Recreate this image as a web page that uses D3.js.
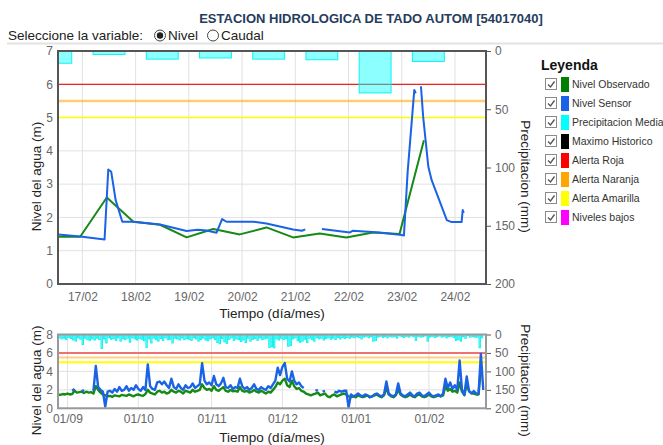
<!DOCTYPE html>
<html>
<head>
<meta charset="utf-8">
<script src="https://cdn.jsdelivr.net/npm/d3@7"></script>
<style>
  body { margin: 0; background: #fff; }
  text { font-family: "Liberation Sans", Arial, sans-serif; }
</style>
</head>
<body>
<svg id="chart" width="663" height="445"></svg>
<script>
// ---------- data ----------
const stationTitle = "ESTACION HIDROLOGICA DE TADO AUTOM [54017040]";
const selectorLabel = "Seleccione la variable:";
const variableOptions = ["Nivel", "Caudal"];
const legendTitle = "Leyenda";
const legendNames = ["Nivel Observado", "Nivel Sensor", "Precipitacion Media", "Maximo Historico",
                     "Alerta Roja", "Alerta Naranja", "Alerta Amarilla", "Niveles bajos"];
const alertNames = ["Alerta Roja", "Alerta Naranja", "Alerta Amarilla"];
const alertLevels = [6, 5.5, 5];

// detail window (hourly sensor + twice-daily readings)
const detailStart = "2024-02-16T13:00";
const detailEnd = "2024-02-24T14:00";
const sensorTimes = [
  "2024-02-16T13:00","2024-02-16T23:00","2024-02-17T10:00","2024-02-17T11:40","2024-02-17T13:00",
  "2024-02-17T15:00","2024-02-17T18:00","2024-02-17T23:00","2024-02-18T11:00","2024-02-18T23:00",
  "2024-02-19T04:00","2024-02-19T08:00","2024-02-19T12:30","2024-02-19T15:00","2024-02-19T17:00",
  "2024-02-20T05:00","2024-02-20T11:00","2024-02-20T23:00","2024-02-21T03:00","2024-02-21T04:30",
  "2024-02-21T08:00","2024-02-21T12:00","2024-02-22T00:40","2024-02-22T02:00","2024-02-22T14:00",
  "2024-02-23T00:00","2024-02-23T01:00","2024-02-23T02:40","2024-02-23T05:40","2024-02-23T06:20",
  "2024-02-23T07:30","2024-02-23T08:40","2024-02-23T09:40","2024-02-23T12:00","2024-02-23T13:30",
  "2024-02-23T20:20","2024-02-23T22:30","2024-02-24T03:00","2024-02-24T03:30","2024-02-24T04:00"
];
const sensorLevels = [
  1.49, 1.43, 1.34, 3.44, 3.37,
  2.52, 1.87, 1.87, 1.79, 1.59,
  1.63, 1.61, 1.54, 1.95, 1.87,
  1.87, 1.82, 1.64, 1.60, 1.64,
  null, 1.65, 1.55, 1.60, 1.55,
  1.47, 1.46, 3.37, 5.83, 5.73,
  null, 5.94, 5.02, 3.52, 3.12,
  1.92, 1.86, 1.86, 2.22, 2.14
];
const observedTimes = [
  "2024-02-16T13:00","2024-02-16T23:00","2024-02-17T11:00","2024-02-17T23:00","2024-02-18T11:00",
  "2024-02-18T23:00","2024-02-19T11:00","2024-02-19T23:00","2024-02-20T11:00","2024-02-20T23:00",
  "2024-02-21T11:00","2024-02-21T23:00","2024-02-22T11:00","2024-02-22T23:00","2024-02-23T10:00"
];
const observedLevels = [
  1.42, 1.42, 2.6, 1.87, 1.78,
  1.40, 1.65, 1.49, 1.70, 1.40,
  1.52, 1.40, 1.55, 1.50, 4.32
];

// daily history, one value per day from seriesStart
const seriesStart = "2023-08-28";
const historyEnd = "2024-02-25T04:00";
const precipDaily = [
  9,12,10,14,8,11,15,  18,9,13,27,10,14,16,  12,15,10,14,38,12,23,  9,13,11,16,9,18,12,
  14,10,21,9,12,15,11,  13,17,35,12,23,10,14,  18,11,16,9,14,13,23,  10,12,15,9,14,11,13,
  16,9,12,18,14,10,15,  17,12,9,14,22,25,11,  20,24,13,9,16,12,14,  19,15,22,10,18,13,11,
  16,9,14,12,10,35,33,  36,12,15,10,14,11,32,  30,12,9,17,21,18,13,  22,10,14,18,9,12,10,
  15,11,9,13,10,14,8,  12,9,11,8,10,7,9,  6,8,12,7,5,9,6,  18,16,7,5,8,6,9,
  5,7,6,10,4,6,8,  5,7,4,6,16,5,7,  6,4,18,7,5,8,6,  4,7,5,9,6,5,8,
  16,14,18,6,10.5,3,7,  6,7,7.5,36,9,0
];
const observedDaily = [
  1.5,1.45,1.55,1.5,1.6,1.5,1.55,  1.9,1.7,1.75,1.8,1.65,1.8,1.7,  1.75,1.6,2.4,2.0,1.7,1.5,1.4,
  1.3,1.35,1.25,1.4,1.35,1.3,1.45,  1.4,1.35,1.5,1.4,1.3,1.45,1.5,  1.4,1.35,1.55,2.0,1.7,1.6,1.5,
  1.8,1.9,1.7,1.8,1.6,1.7,2.0,  1.8,1.7,1.9,1.8,1.6,1.9,1.8,  1.7,2.0,1.8,1.9,2.0,2.6,2.2,
  2.0,2.1,1.9,2.4,2.0,1.9,2.1,  2.3,1.9,1.8,2.0,1.85,1.9,1.8,  2.3,1.9,1.8,1.9,1.7,1.8,2.0,
  1.8,1.7,1.9,1.75,1.6,1.8,1.7,  2.0,2.3,2.8,2.6,3.0,3.2,2.5,  2.3,3.0,2.4,2.1,2.2,1.9,1.8,
  1.6,1.5,1.4,1.5,1.6,1.7,1.4,  1.5,1.6,1.3,1.2,1.4,1.5,1.3,  1.4,1.5,1.6,1.5,1.3,1.2,1.3,
  1.2,1.4,1.3,1.2,1.3,1.4,1.2,  1.3,1.4,1.5,1.3,1.2,1.4,2.2,  1.5,1.3,1.2,1.4,2.0,1.5,1.3,
  1.2,1.3,1.5,1.3,1.2,1.4,1.5,  1.3,1.2,1.3,1.5,1.3,1.2,1.3,  1.4,1.3,1.4,2.4,1.9,2.1,1.8,
  1.9,1.7,2.8,1.8,1.42,2.6,1.87,  1.6,1.6,1.5,1.5,4.3,null
];
const sensorDaily = [
  null,null,null,null,null,null,1.9,  2.1,null,null,1.8,2.0,null,null,  null,1.9,4.6,2.3,2.0,1.8,0.2,
  1.8,1.9,1.7,2.1,1.8,2.3,1.9,  2.0,2.4,1.9,2.2,2.0,2.5,2.1,  1.9,2.3,2.0,4.75,2.4,2.1,2.0,
  2.8,2.9,2.6,2.9,2.5,2.2,3.2,  2.3,2.1,2.6,2.2,2.0,2.5,2.2,  2.3,2.7,2.2,2.4,2.6,4.9,3.0,
  2.6,2.8,2.5,3.5,2.6,2.4,2.7,  3.3,2.3,2.2,2.5,2.1,2.3,2.2,  3.2,2.4,2.1,2.3,2.0,2.2,2.6,
  2.1,2.0,2.3,2.1,2.0,2.4,2.2,  2.6,3.0,4.4,3.6,4.5,4.9,3.2,  2.9,4.0,3.0,2.6,2.8,2.4,2.2,
  null,null,null,null,1.9,2.0,null,  1.8,1.9,null,null,null,1.8,1.7,  1.9,1.8,1.9,1.9,0.1,1.5,1.3,
  1.4,1.6,1.4,1.3,1.5,1.4,1.2,  1.3,1.5,1.6,1.4,1.3,1.5,2.9,  1.6,1.4,1.3,1.5,2.7,1.6,1.4,
  1.3,1.5,1.7,1.4,1.3,1.6,1.7,  1.4,1.3,1.5,1.7,1.4,1.3,1.4,  1.5,1.3,1.6,3.2,2.2,2.8,2.1,
  2.5,2.0,5.2,2.0,1.45,3.45,1.85,  1.65,1.87,1.62,1.55,5.9,2.0
];

const levelTitle = "Nivel del agua (m)";
const rainTitle = "Precipitacion (mm)";
const timeTitle = "Tiempo (día/mes)";

// ---------- styles ----------
const colors = {
  observed: "#168a16", sensor: "#1a62e6", rain: "#00ffff",
  legend: ["#008000", "#1a62e6", "#00ffff", "#000000", "#ff0000", "#ffa500", "#ffff00", "#ff00ff"]
};
const font = "'Liberation Sans', Arial, sans-serif";

const svg = d3.select("#chart");
const parseT = d3.timeParse("%Y-%m-%dT%H:%M");
const parseD = d3.timeParse("%Y-%m-%d");
const dayMonth = d3.timeFormat("%d/%m");

// ---------- header ----------
svg.append("text").attr("x", 371).attr("y", 22.5).attr("text-anchor", "middle")
  .attr("font-size", 13).attr("font-weight", "bold").attr("fill", "#263c5c").text(stationTitle);
svg.append("text").attr("x", 8).attr("y", 40).attr("font-size", 13.5).attr("fill", "#222").text(selectorLabel);
const radios = [{cx: 160, tx: 168, on: true}, {cx: 213, tx: 221, on: false}];
radios.forEach((r, i) => {
  svg.append("circle").attr("cx", r.cx).attr("cy", 35.5).attr("r", 5.5)
    .attr("fill", "#fff").attr("stroke", "#444").attr("stroke-width", 1);
  if (r.on) svg.append("circle").attr("cx", r.cx).attr("cy", 35.5).attr("r", 3.2).attr("fill", "#222");
  svg.append("text").attr("x", r.tx).attr("y", 40).attr("font-size", 13.5).attr("fill", "#222").text(variableOptions[i]);
});
svg.append("line").attr("x1", 7).attr("x2", 663).attr("y1", 43.5).attr("y2", 43.5)
  .attr("stroke", "#e2e2e2").attr("stroke-width", 2);

// ---------- build series ----------
const start = parseD(seriesStart);
const dailyDates = precipDaily.map((_, i) => d3.timeDay.offset(start, i));
const rainBars = precipDaily.map((v, i) => ({t: dailyDates[i], v}));
const obsHistory = observedDaily.map((v, i) => ({t: dailyDates[i], v}));
const senHistory = sensorDaily.map((v, i) => ({t: dailyDates[i], v}));
const obsDetail = observedTimes.map((t, i) => ({t: parseT(t), v: observedLevels[i]}));
const senDetail = sensorTimes.map((t, i) => ({t: parseT(t), v: sensorLevels[i]}));

// ---------- panel ----------
function drawPanel(p) {
  const x = d3.scaleTime().domain(p.xDomain).range([p.x0, p.x1]);
  const y = d3.scaleLinear().domain([0, p.yMax]).range([p.y1, p.y0]);
  const yr = d3.scaleLinear().domain([0, 200]).range([p.y0, p.y1]);
  const g = svg.append("g");

  svg.append("clipPath").attr("id", "clip-" + p.id).append("rect")
    .attr("x", p.x0).attr("y", p.y0).attr("width", p.x1 - p.x0).attr("height", p.y1 - p.y0);

  // grid
  g.append("g").selectAll("line").data(p.xTicks).join("line")
    .attr("x1", d => x(d)).attr("x2", d => x(d)).attr("y1", p.y0).attr("y2", p.y1)
    .attr("stroke", "#e1e1e1").attr("stroke-width", 1);
  g.append("g").selectAll("line").data(p.yTicks).join("line")
    .attr("x1", p.x0).attr("x2", p.x1).attr("y1", d => y(d)).attr("y2", d => y(d))
    .attr("stroke", "#e1e1e1").attr("stroke-width", 1);

  const body = g.append("g").attr("clip-path", `url(#clip-${p.id})`);

  // alert thresholds
  body.append("g").selectAll("line").data(alertLevels).join("line")
    .attr("x1", p.x0).attr("x2", p.x1).attr("y1", d => y(d)).attr("y2", d => y(d))
    .attr("stroke", (d, i) => p.alertColors[i]).attr("stroke-width", (d, i) => p.alertWidths[i]);

  // daily rainfall, hanging from the top
  const half = 432; // minutes either side of noon
  body.append("g").selectAll("rect").data(rainBars.filter(d => d.v > 0)).join("rect")
    .attr("x", d => x(d3.timeMinute.offset(d.t, 720 - half)))
    .attr("width", d => x(d3.timeMinute.offset(d.t, 720 + half)) - x(d3.timeMinute.offset(d.t, 720 - half)))
    .attr("y", p.y0)
    .attr("height", d => yr(d.v) - p.y0)
    .attr("fill", "rgba(0,255,255,0.45)")
    .attr("stroke", "rgba(0,238,238,0.9)").attr("stroke-width", 1);

  const line = d3.line().defined(d => d.v != null).x(d => x(d.t)).y(d => y(d.v));
  body.append("path").datum(p.observed).attr("d", line).attr("fill", "none")
    .attr("stroke", colors.observed).attr("stroke-width", p.lineWidth).attr("stroke-linejoin", "round");
  body.append("path").datum(p.sensor).attr("d", line).attr("fill", "none")
    .attr("stroke", colors.sensor).attr("stroke-width", p.lineWidth).attr("stroke-linejoin", "round");

  // axes
  const ax = g.append("g").attr("transform", `translate(0,${p.y1})`)
    .call(d3.axisBottom(x).tickValues(p.xTicks).tickFormat(dayMonth).tickSize(0).tickPadding(p.xPad));
  const ayl = g.append("g").attr("transform", `translate(${p.x0},0)`)
    .call(d3.axisLeft(y).tickValues(p.yTicks).tickFormat(d3.format("d")).tickSize(0).tickPadding(5));
  const ayr = g.append("g").attr("transform", `translate(${p.x1},0)`)
    .call(d3.axisRight(yr).tickValues([0, 50, 100, 150, 200]).tickSize(5).tickPadding(4));
  [ax, ayl, ayr].forEach(a => {
    a.select(".domain").remove();
    a.selectAll("text").attr("font-family", font).attr("font-size", 12).attr("fill", "#666");
    a.selectAll("line").attr("stroke", "#555");
  });

  // frame
  g.append("rect").attr("x", p.x0).attr("y", p.y0).attr("width", p.x1 - p.x0).attr("height", p.y1 - p.y0)
    .attr("fill", "none").attr("stroke", p.frame).attr("stroke-width", 2);

  // titles
  const midY = (p.y0 + p.y1) / 2 + 9;
  g.append("text").attr("transform", `translate(41,${midY}) rotate(-90)`).attr("text-anchor", "middle")
    .attr("font-size", 13.5).attr("fill", "#222").text(levelTitle);
  g.append("text").attr("transform", `translate(521,${midY}) rotate(90)`).attr("text-anchor", "middle")
    .attr("font-size", 13.5).attr("fill", "#222").text(rainTitle);
  g.append("text").attr("x", (p.x0 + p.x1) / 2).attr("y", p.titleY).attr("text-anchor", "middle")
    .attr("font-size", 13.5).attr("fill", "#222").text(timeTitle);
}

drawPanel({
  id: "detail", x0: 58, x1: 486, y0: 51, y1: 284,
  xDomain: [parseT(detailStart), parseT(detailEnd)],
  xTicks: d3.timeDay.range(parseT("2024-02-17T00:00"), parseT("2024-02-24T01:00")),
  yMax: 7, yTicks: d3.range(0, 8),
  observed: obsDetail, sensor: senDetail,
  alertColors: ["#ee2222", "rgba(255,165,0,0.55)", "#ffff00"], alertWidths: [1.2, 2.5, 1.5],
  lineWidth: 2, frame: "#555", xPad: 8, titleY: 318
});

drawPanel({
  id: "history", x0: 58, x1: 486, y0: 334.5, y1: 408.3,
  xDomain: [start, parseT(historyEnd)],
  xTicks: d3.timeMonth.range(parseD("2023-09-01"), parseD("2024-02-02")),
  yMax: 8, yTicks: [0, 2, 4, 6, 8],
  observed: obsHistory, sensor: senHistory,
  alertColors: ["rgba(240,60,60,0.7)", "rgba(255,165,0,0.5)", "#ffff00"], alertWidths: [2, 2, 2],
  lineWidth: 2.4, frame: "#999", xPad: 6.5, titleY: 442
});

// ---------- legend ----------
const lg = svg.append("g");
lg.append("text").attr("x", 541).attr("y", 70).attr("font-size", 14).attr("font-weight", "bold")
  .attr("fill", "#111").text(legendTitle);
legendNames.forEach((name, i) => {
  const cy = 84.5 + i * 19;
  lg.append("rect").attr("x", 545.5).attr("y", cy - 6).attr("width", 11).attr("height", 11)
    .attr("fill", "#fff").attr("stroke", "#8a8a8a").attr("stroke-width", 1);
  lg.append("path").attr("d", `M548,${cy} L550.5,${cy + 2.5} L554.5,${cy - 3}`)
    .attr("fill", "none").attr("stroke", "#555").attr("stroke-width", 1.3);
  lg.append("rect").attr("x", 561).attr("y", cy - 7.5).attr("width", 8).attr("height", 15)
    .attr("fill", colors.legend[i]);
  lg.append("text").attr("x", 572).attr("y", cy + 3.8).attr("font-size", 10.5).attr("fill", "#333").text(name);
});
</script>
</body>
</html>
